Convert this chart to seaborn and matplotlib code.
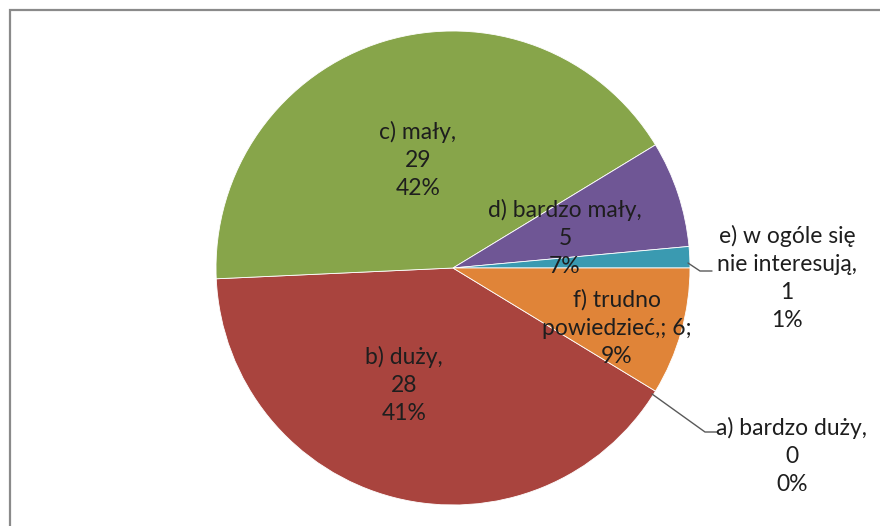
import matplotlib
matplotlib.use("Agg")
import matplotlib.pyplot as plt
from matplotlib.patches import Rectangle
import seaborn as sns

# data
categories = ['a) bardzo duży', 'b) duży', 'c) mały', 'd) bardzo mały',
              'e) w ogóle się\nnie interesują', 'f) trudno\npowiedzieć,']
counts = [0, 28, 29, 5, 1, 6]
colors = ['#4F81BD', '#A9443E', '#87A54A', '#6F5695', '#3A9AB1', '#E08438']

sns.set_theme(style='white')
plt.rcParams['font.family'] = ['Lato', 'DejaVu Sans']

W, H = 880, 526
fig = plt.figure(figsize=(W / 100, H / 100), dpi=100)
ax = fig.add_axes([0, 0, 1, 1])

total = sum(counts)
cx, cy, r = 453, H - 268, 237
start = -360 * counts[-1] / total  # Excel start so a) sits at the f/b boundary

wedges, _ = ax.pie(counts, colors=sns.color_palette(colors), startangle=start,
                   counterclock=False, center=(cx, cy), radius=r, frame=True,
                   wedgeprops=dict(linewidth=0.6, edgecolor='white'))
ax.set_xlim(0, W)
ax.set_ylim(0, H)
ax.set_aspect('equal')
ax.axis('off')

# label texts
labels = []
for i, (cat, v) in enumerate(zip(categories, counts)):
    pct = round(v / total * 100)
    if i == len(counts) - 1:
        labels.append(f"{cat}; {v};\n{pct}%")
    else:
        labels.append(f"{cat},\n{v}\n{pct}%")

# label positions in pixel coords (from top-left)
label_pos = [(792, 456), (404, 385), (418, 160), (565, 238), (787, 278), (617, 328)]
for txt, (x, y) in zip(labels, label_pos):
    ax.text(x, H - y, txt, ha='center', va='center', multialignment='center',
            fontsize=16.5, color='#1e1e1e', linespacing=1.4)

# leader lines for outside labels
leaders = [[(652, 394), (705, 432), (717, 432)],
           [(688, 263), (700, 271), (712, 271)]]
for pts in leaders:
    xs = [p[0] for p in pts]
    ys = [H - p[1] for p in pts]
    ax.plot(xs, ys, color='#595959', lw=1)

# chart border
fig.patches.append(Rectangle((9.5 / W, 0 - 0.05), 1.1, (H - 10.5) / H + 0.05,
                             transform=fig.transFigure, fill=False,
                             edgecolor='#8a8a8a', lw=1.6))

fig.savefig('out.png', dpi=100)
